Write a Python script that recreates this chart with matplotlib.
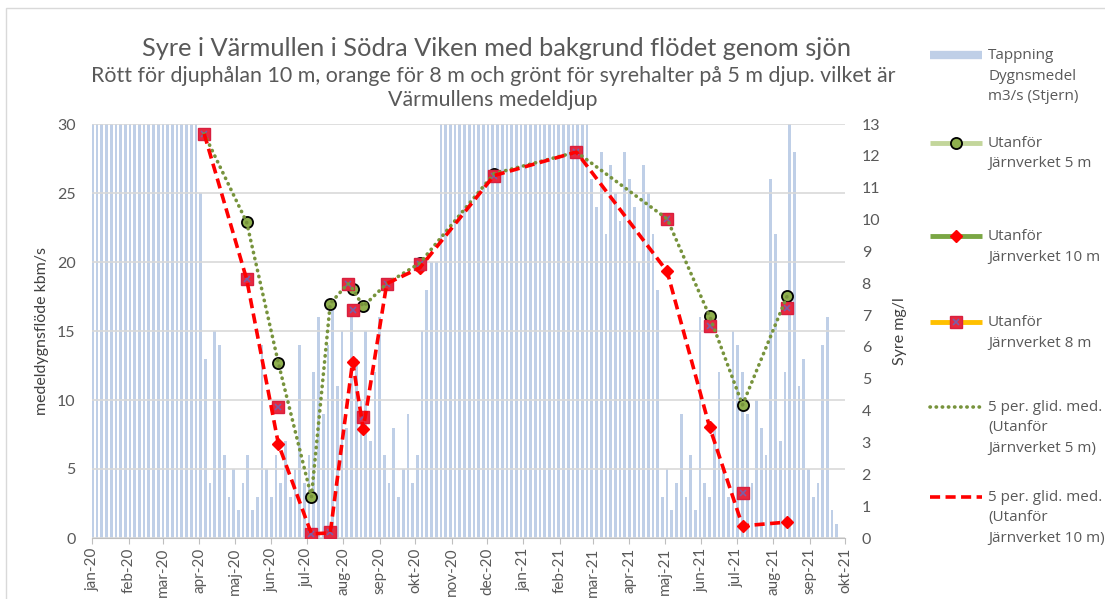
import matplotlib
matplotlib.use("Agg")
import matplotlib.pyplot as plt
from matplotlib.lines import Line2D
from matplotlib.patches import Rectangle
import datetime as dt

# ---------------- data ----------------
month_labels = ["jan-20", "feb-20", "mar-20", "apr-20", "maj-20", "jun-20", "jul-20",
                "aug-20", "sep-20", "okt-20", "nov-20", "dec-20", "jan-21", "feb-21",
                "mar-21", "apr-21", "maj-21", "jun-21", "jul-21", "aug-21", "sep-21",
                "okt-21"]

# daily mean flow (kbm/s), one value every 4 days starting 2020-01-01
flow_start = "2020-01-01"
flow_step_days = 4
flow_values = [
    30, 30, 30, 30, 30, 30, 30, 30, 30, 30, 30, 30, 30, 30, 30, 30, 30, 30, 30, 30,
    30, 30, 30, 25, 13, 4, 15, 14, 6, 3, 5, 2, 4, 6, 2, 3, 14, 5, 3, 6,
    4, 7, 3, 5, 14, 4, 6, 12, 16, 9, 14, 17, 11, 15, 8, 16, 13, 10, 15, 7,
    12, 16, 6, 4, 8, 3, 5, 9, 4, 6, 15, 18, 20, 20, 30, 30, 30, 30, 30, 30,
    30, 30, 30, 30, 30, 30, 30, 30, 30, 30, 30, 30, 30, 30, 30, 30, 30, 30, 30, 30,
    30, 30, 30, 30, 30, 30, 26, 24, 28, 22, 27, 25, 23, 28, 26, 24, 20, 27, 25, 22,
    18, 3, 5, 2, 4, 9, 3, 6, 2, 16, 4, 3, 8, 12, 5, 3, 15, 14, 12, 9,
    4, 10, 8, 6, 26, 22, 7, 12, 30, 28, 11, 13, 5, 3, 4, 14, 16, 2, 1, 0,
]

dates_5m = ["2020-04-05", "2020-05-11", "2020-06-07", "2020-07-05", "2020-07-21",
            "2020-08-05", "2020-08-09", "2020-08-18", "2020-09-07", "2020-10-05",
            "2020-12-07", "2021-02-15", "2021-05-03", "2021-06-08", "2021-07-06",
            "2021-08-13"]
syre_5m = [12.69, 9.92, 5.49, 1.29, 7.36, 7.99, 7.82, 7.27, 7.99, 8.63,
           11.44, 12.12, 10.02, 6.97, 4.18, 7.61]

dates_8m = ["2020-04-05", "2020-05-11", "2020-06-07", "2020-07-05", "2020-07-21",
            "2020-08-05", "2020-08-09", "2020-08-18", "2020-09-07", "2020-10-05",
            "2020-12-07", "2021-02-15", "2021-05-03", "2021-06-08", "2021-07-06",
            "2021-08-13"]
syre_8m = [12.69, 8.13, 4.11, 0.13, 0.19, 7.99, 7.17, 3.81, 7.99, 8.60,
           11.38, 12.12, 10.02, 6.66, 1.40, 7.21]

dates_10m = ["2020-04-05", "2020-05-11", "2020-06-07", "2020-07-05", "2020-07-21",
             "2020-08-09", "2020-08-18", "2020-09-07", "2020-10-05", "2020-12-07",
             "2021-02-15", "2021-05-03", "2021-06-08", "2021-07-06", "2021-08-13"]
syre_10m = [12.69, 8.13, 2.95, 0.13, 0.16, 5.54, 3.42, 7.99, 8.48, 11.38,
            12.12, 8.37, 3.49, 0.38, 0.50]

title = "Syre i Värmullen i Södra Viken med bakgrund flödet genom sjön"
subtitle = ("Rött för djuphålan 10 m, orange för 8 m och grönt för syrehalter på 5 m djup. vilket är\n"
            "Värmullens medeldjup")
legend_labels = ["Tappning\nDygnsmedel\nm3/s (Stjern)",
                 "Utanför\nJärnverket 5 m",
                 "Utanför\nJärnverket 10 m",
                 "Utanför\nJärnverket 8 m",
                 "5 per. glid. med.\n(Utanför\nJärnverket 5 m)",
                 "5 per. glid. med.\n(Utanför\nJärnverket 10 m)"]

# ---------------- helpers ----------------
def to_dt(s):
    return dt.datetime.strptime(s, "%Y-%m-%d")

t0 = to_dt(flow_start)
flow_dates = [t0 + dt.timedelta(days=flow_step_days * i) for i in range(len(flow_values))]
d5 = [to_dt(s) for s in dates_5m]
d8 = [to_dt(s) for s in dates_8m]
d10 = [to_dt(s) for s in dates_10m]

W, H = 1105, 599
fig = plt.figure(figsize=(W / 100, H / 100), dpi=100)

def fx(px):
    return px / W

def fy(py):
    return 1 - py / H

GRAY = "#595959"
BAR = "#bfcfe7"
FONT = ["Lato", "DejaVu Sans"]
LFONT = ["Open Sans", "DejaVu Sans"]

DOT = (0, (0.1, 1.6))
DASH = (0, (2.8, 1.5))

# outer chart frame
fig.add_artist(Rectangle((fx(6), fy(700)), fx(1200), fy(8) - fy(700),
                         transform=fig.transFigure, fill=False,
                         edgecolor="#d9d9d9", linewidth=1))

ax = fig.add_axes([fx(92.3), fy(538), fx(845) - fx(92.3), fy(124) - fy(538)])
ax2 = ax.twinx()

# flow bars
ax.bar(flow_dates, flow_values, width=2.3, color=BAR, linewidth=0, align="center", zorder=1)
ax.set_ylim(0, 30)
ax.set_yticks(range(0, 31, 5))
ax.set_xlim(to_dt("2020-01-01"), to_dt("2021-10-01"))
ax.grid(axis="y", color="#d9d9d9", linewidth=1.2)
ax.set_axisbelow(False)
for s in ["top", "left", "right"]:
    ax.spines[s].set_visible(False)
ax.spines["bottom"].set_color("#bfbfbf")
ax.tick_params(axis="y", length=0, pad=12, labelsize=11.5, labelcolor=GRAY)
ax.set_ylabel("medeldygnsflöde kbm/s", fontsize=11.5, color="#404040", family=FONT, labelpad=6)

month_ticks = [dt.datetime(2020 + (m // 12), m % 12 + 1, 1) for m in range(len(month_labels))]
ax.set_xticks(month_ticks)
ax.set_xticklabels(month_labels, rotation=90, family=FONT)
ax.tick_params(axis="x", length=4, color="#bfbfbf", labelsize=11, labelcolor=GRAY, pad=3)
for lab in ax.get_yticklabels():
    lab.set_family(FONT)

# oxygen series on right axis
ax2.set_ylim(0, 13)
ax2.set_yticks(range(0, 14))
for s in ["top", "left", "right", "bottom"]:
    ax2.spines[s].set_visible(False)
ax2.tick_params(axis="y", length=0, pad=12, labelsize=11.5, labelcolor=GRAY)
for lab in ax2.get_yticklabels():
    lab.set_family(FONT)
ax2.set_ylabel("Syre mg/l", fontsize=11.5, color="#404040", family=FONT, labelpad=9)

C5_FACE = "#8fb04e"
ax2.plot(d5, syre_5m, linestyle="none", marker="o", markersize=8,
         markerfacecolor=C5_FACE, markeredgecolor="black", markeredgewidth=1.3, zorder=3)
ax2.plot(d10, syre_10m, linestyle="none", marker="D", markersize=6.5,
         markerfacecolor="#ff0000", markeredgecolor="#ff0000", zorder=4)
ax2.plot(d8, syre_8m, linestyle="none", marker="s", markersize=9,
         markerfacecolor="#e8283e", markeredgecolor="#d81f3f", zorder=5)
ax2.plot(d8, syre_8m, linestyle="none", marker="x", markersize=5,
         markeredgecolor="#7b5ea7", markeredgewidth=1.2, zorder=6)

# moving-average style lines
ax2.plot(d5, syre_5m, linestyle=DOT, dash_capstyle="round", color="#77933c",
         linewidth=2.6, zorder=7)
ax2.plot(d10, syre_10m, linestyle=DASH, color="#ff0000", linewidth=2.6, zorder=8)

# titles
fig.text(fx(497), fy(48), title, ha="center", va="center", fontsize=18.3,
         color=GRAY, family=FONT)
fig.text(fx(493), fy(88), subtitle, ha="center", va="center", fontsize=15.4,
         color=GRAY, family=FONT, linespacing=1.2)

# legend (manual layout, right side)
hx0, hx1 = fx(930), fx(982)
tx = fx(988)
entries_y = [55, 143, 236, 322, 407, 497]

def handle_line(y, **kw):
    fig.add_artist(Line2D([hx0, hx1], [fy(y), fy(y)], transform=fig.transFigure, **kw))

def handle_marker(y, **kw):
    fig.add_artist(Line2D([(hx0 + hx1) / 2], [fy(y)], transform=fig.transFigure,
                          linestyle="none", **kw))

handle_line(entries_y[0], color=BAR, linewidth=6, solid_capstyle="butt")
handle_line(entries_y[1], color="#c3d69b", linewidth=3.5, solid_capstyle="butt")
handle_marker(entries_y[1], marker="o", markersize=8, markerfacecolor=C5_FACE,
              markeredgecolor="black", markeredgewidth=1.3)
handle_line(entries_y[2], color="#7aa644", linewidth=3.5, solid_capstyle="butt")
handle_marker(entries_y[2], marker="D", markersize=6.5, markerfacecolor="#ff0000",
              markeredgecolor="#ff0000")
handle_line(entries_y[3], color="#ffc000", linewidth=3.5, solid_capstyle="butt")
handle_marker(entries_y[3], marker="s", markersize=9, markerfacecolor="#e8283e",
              markeredgecolor="#d81f3f")
handle_marker(entries_y[3], marker="x", markersize=5, markeredgecolor="#7b5ea7",
              markeredgewidth=1.2)
handle_line(entries_y[4], color="#77933c", linewidth=2.6, linestyle=DOT,
            dash_capstyle="round")
handle_line(entries_y[5], color="#ff0000", linewidth=2.6, linestyle=DASH)

for y, lab in zip(entries_y, legend_labels):
    fig.text(tx, fy(y - 7), lab, ha="left", va="top", fontsize=11, color=GRAY,
             family=LFONT, linespacing=1.5)

fig.savefig("out.png", dpi=100)
